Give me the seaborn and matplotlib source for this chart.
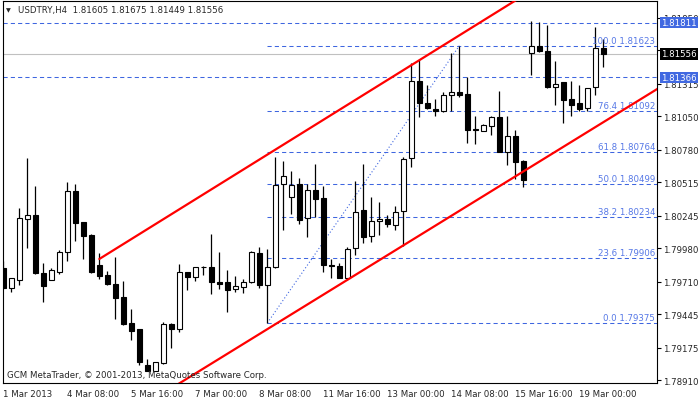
import matplotlib
matplotlib.use("Agg")
import matplotlib.pyplot as plt
import seaborn as sns
import pandas as pd

# USDTRY H4 candles, 1 Mar - 19 Mar 2013
opens = [1.79821, 1.79656, 1.79726, 1.80221, 1.80251, 1.79780, 1.79721, 1.79786, 1.79948, 1.80445,
         1.80194, 1.80088, 1.79845, 1.79764, 1.79691, 1.79586, 1.79375, 1.79326, 1.79035, 1.78988,
         1.79048, 1.79367, 1.79326, 1.79786, 1.79746, 1.79831, 1.79827, 1.79705, 1.79705, 1.79648,
         1.79664, 1.79705, 1.79943, 1.79686, 1.79827, 1.80499, 1.80394, 1.80499, 1.80224, 1.80451,
         1.80386, 1.79843, 1.79835, 1.79742, 1.79981, 1.80289, 1.80078, 1.80200, 1.80216, 1.80172,
         1.80281, 1.80710, 1.81335, 1.81156, 1.81110, 1.81096, 1.81223, 1.81250, 1.81232, 1.80948,
         1.80934, 1.80975, 1.81045, 1.80759, 1.80893, 1.80688, 1.81561, 1.81618, 1.81583, 1.81286,
         1.81326, 1.81191, 1.81156, 1.81116, 1.81286, 1.81605]
highs = [1.79875, 1.79737, 1.80305, 1.80713, 1.80488, 1.79861, 1.79821, 1.79969, 1.80521, 1.80504,
         1.80194, 1.80097, 1.79943, 1.79797, 1.79910, 1.79716, 1.79489, 1.79330, 1.79083, 1.79056,
         1.79381, 1.79379, 1.79853, 1.79790, 1.79827, 1.79837, 1.80097, 1.79948, 1.79805, 1.79758,
         1.79732, 1.79959, 1.79994, 1.79975, 1.80718, 1.80686, 1.80605, 1.80548, 1.80502, 1.80664,
         1.80486, 1.79894, 1.79861, 1.79989, 1.80524, 1.80664, 1.80394, 1.80354, 1.80251, 1.80321,
         1.80718, 1.81480, 1.81507, 1.81305, 1.81191, 1.81250, 1.81564, 1.81623, 1.81367, 1.81051,
         1.80988, 1.81051, 1.81256, 1.81051, 1.80940, 1.80699, 1.81821, 1.81813, 1.81793, 1.81497,
         1.81330, 1.81339, 1.81305, 1.81280, 1.81772, 1.81675]
lows = [1.79651, 1.79624, 1.79686, 1.79981, 1.79775, 1.79548, 1.79721, 1.79775, 1.79878, 1.80042,
        1.79894, 1.79778, 1.79732, 1.79684, 1.79407, 1.79361, 1.79237, 1.79037, 1.78986, 1.78986,
        1.79043, 1.79172, 1.79305, 1.79645, 1.79718, 1.79764, 1.79610, 1.79651, 1.79462, 1.79626,
        1.79618, 1.79700, 1.79656, 1.79375, 1.79822, 1.80131, 1.80259, 1.80180, 1.80075, 1.80232,
        1.79786, 1.79737, 1.79736, 1.79724, 1.79926, 1.80024, 1.80034, 1.80088, 1.80156, 1.80131,
        1.80002, 1.80640, 1.81043, 1.81110, 1.81051, 1.81086, 1.81096, 1.81205, 1.80834, 1.80826,
        1.80929, 1.80902, 1.80758, 1.80658, 1.80542, 1.80480, 1.81386, 1.81570, 1.81280, 1.81145,
        1.80994, 1.81051, 1.81091, 1.81091, 1.81226, 1.81449]
closes = [1.79656, 1.79737, 1.80224, 1.80248, 1.79780, 1.79673, 1.79805, 1.79948, 1.80443, 1.80188,
          1.80083, 1.79786, 1.79758, 1.79688, 1.79578, 1.79367, 1.79310, 1.79056, 1.78988, 1.79056,
          1.79367, 1.79330, 1.79786, 1.79748, 1.79827, 1.79832, 1.79705, 1.79691, 1.79645, 1.79675,
          1.79705, 1.79948, 1.79686, 1.79827, 1.80494, 1.80564, 1.80494, 1.80212, 1.80451, 1.80383,
          1.79848, 1.79837, 1.79742, 1.79975, 1.80272, 1.80075, 1.80200, 1.80216, 1.80175, 1.80272,
          1.80702, 1.81335, 1.81156, 1.81114, 1.81096, 1.81223, 1.81250, 1.81226, 1.80942, 1.80936,
          1.80980, 1.81045, 1.80762, 1.80893, 1.80683, 1.80534, 1.81618, 1.81583, 1.81286, 1.81315,
          1.81185, 1.81145, 1.81110, 1.81278, 1.81602, 1.81556]

time_labels = ["1 Mar 2013", "4 Mar 08:00", "5 Mar 16:00", "7 Mar 00:00", "8 Mar 08:00",
               "11 Mar 16:00", "13 Mar 00:00", "14 Mar 08:00", "15 Mar 16:00", "19 Mar 00:00"]
label_every = 8

price_ticks = [1.78910, 1.79175, 1.79445, 1.79710, 1.79980, 1.80245,
               1.80515, 1.80780, 1.81050, 1.81315, 1.81585, 1.81850]

fib_levels = [0.0, 23.6, 38.2, 50.0, 61.8, 76.4, 100.0]
fib_prices = [1.79375, 1.79906, 1.80234, 1.80499, 1.80764, 1.81092, 1.81623]
fib_anchor_bars = [33, 57]
fib_anchor_prices = [1.79375, 1.81623]

user_lines = [1.81811, 1.81366]
bid = 1.81556

upper_bars = [12, 70]
upper_prices = [1.79894, 1.82231]
lower_bars = [15, 82]
lower_prices = [1.78606, 1.81283]

FS = 6.2
BLUE = "#3f66e0"
LBLUE = "#5577e6"

sns.set_style("white")
plt.rcParams['font.family'] = ['DejaVu Sans']

df = pd.DataFrame({"open": opens, "high": highs, "low": lows, "close": closes})
df["bar"] = range(len(df))
df["up"] = df["close"] >= df["open"]

fig = plt.figure(figsize=(7, 4.02), dpi=100)
ax = fig.add_axes([2.7 / 700, 1 - 384 / 402, (657 - 2.7) / 700, 382 / 402])
ax.set_xlim(-0.075, 81.7)
ax.set_ylim(1.788886, 1.819855)

# horizontal objects (behind candles)
ax.axhline(bid, color="#c0c0c0", lw=0.8, zorder=1)
for p in user_lines:
    ax.axhline(p, color=BLUE, lw=0.75, ls=(0, (4, 3)), zorder=1)
ax.hlines(fib_prices, fib_anchor_bars[0], 200, color=BLUE, lw=0.75, ls=(0, (4, 3)), zorder=1)
sns.lineplot(x=fib_anchor_bars, y=fib_anchor_prices, color=BLUE, lw=0.8,
             linestyle=(0, (1, 2)), ax=ax, zorder=1)

# candles
ax.vlines(df["bar"], df["low"], df["high"], color="black", lw=0.9, zorder=3)
body_lo = df[["open", "close"]].min(axis=1)
body_h = (df["close"] - df["open"]).abs()
ax.bar(df["bar"], body_h, bottom=body_lo, width=0.58,
       color=["white" if u else "black" for u in df["up"]],
       edgecolor="black", lw=0.8, zorder=4)

# channel
sns.lineplot(x=upper_bars, y=upper_prices, color="red", lw=1.6, ax=ax, zorder=5)
sns.lineplot(x=lower_bars, y=lower_prices, color="red", lw=1.6, ax=ax, zorder=5)

for lvl, p in zip(fib_levels, fib_prices):
    ax.annotate(f"{lvl:.1f} {p:.5f}", xy=(1, p), xycoords=("axes fraction", "data"),
                xytext=(-2, 3), textcoords="offset pixels", ha="right", va="baseline",
                fontsize=FS, color=LBLUE, zorder=4)

# axes styling
for s in ax.spines.values():
    s.set_visible(True)
    s.set_color("black")
    s.set_linewidth(0.8)
ax.set_xlabel("")
ax.set_ylabel("")
ax.set_xticks(range(0, len(time_labels) * label_every, label_every))
ax.set_xticklabels(time_labels, ha="left", fontsize=FS)
ax.yaxis.tick_right()
ax.set_yticks(price_ticks)
ax.set_yticklabels([f"{p:.5f}" for p in price_ticks], fontsize=FS)
ax.tick_params(axis="both", direction="out", length=3, width=0.8, color="black", pad=1.5)
ax.tick_params(axis="x", pad=1)

# price boxes on the scale (they cover the scale labels, as in the terminal)
for p, fc in [(user_lines[0], "#4169e1"), (user_lines[1], "#4169e1"), (bid, "black")]:
    ax.annotate(f"{p:.5f}", xy=(1, p), xycoords=("axes fraction", "data"),
                xytext=(4, 0), textcoords="offset pixels", ha="left", va="center",
                fontsize=FS, color="white", annotation_clip=False, zorder=6,
                bbox=dict(boxstyle="square,pad=0.15", fc=fc, ec="none"))

fig.text(6 / 700, 1 - 11 / 402, "\u25bc", fontsize=4.5, va="center", ha="left")
fig.text(18 / 700, 1 - 11 / 402, "USDTRY,H4  1.81605 1.81675 1.81449 1.81556",
         fontsize=FS, va="center", ha="left")
fig.text(7 / 700, 1 - 376 / 402, "GCM MetaTrader, \u00a9 2001-2013, MetaQuotes Software Corp.",
         fontsize=FS, va="center", ha="left", zorder=2)

fig.savefig("out.png", dpi=100)
